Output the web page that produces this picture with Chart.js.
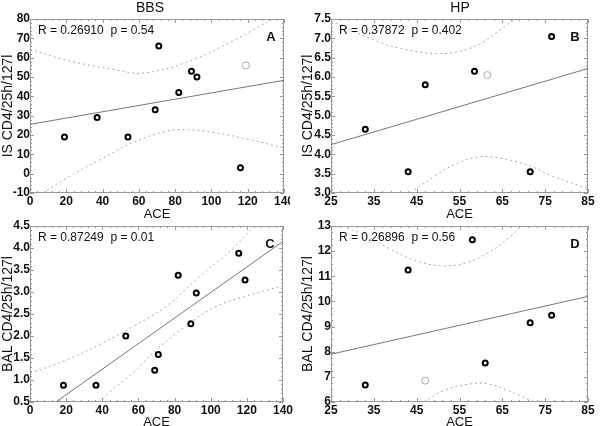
<!DOCTYPE html>
<html>
<head>
<meta charset="utf-8">
<script src="https://cdn.jsdelivr.net/npm/chart.js@4"></script>
<style>
  body { margin: 0; background: #fff; width: 600px; height: 426px; overflow: hidden; position: relative; }
  canvas, .clip { position: absolute; }
  .clip { overflow: hidden; }
</style>
</head>
<body>
<div class="clip" style="left:0;top:0;width:290px;height:222px">
  <canvas id="panelA" width="300" height="222" style="left:0;top:0"></canvas>
</div>
<canvas id="panelB" width="300" height="222" style="left:300px;top:0"></canvas>
<canvas id="panelC" width="300" height="216" style="left:0;top:214px"></canvas>
<canvas id="panelD" width="300" height="216" style="left:300px;top:214px"></canvas>
<script>
// ---- data ----
// BBS, IS (panel A)
const bbsIsAce = [19, 37, 54, 69, 71, 82, 89, 92, 116];
const bbsIsVal = [19, 29, 19, 33, 66, 42, 53, 50, 3];
const bbsIsOutAce = [119];
const bbsIsOutVal = [56];
const bbsIsFitAce = [0, 140];
const bbsIsFitVal = [25.5, 48.3];
const bbsIsUpAce = [0, 20, 48, 62, 86, 112, 127, 135];
const bbsIsUpVal = [64.4, 58.7, 53.6, 52, 57.5, 68.7, 76.5, 80.5];
const bbsIsLoAce = [0, 7, 20, 38.6, 57, 75, 86, 103, 121, 140];
const bbsIsLoVal = [-14, -10, -2.4, 7.2, 16.2, 21.9, 22.8, 21, 17.6, 13.3];

// HP, IS (panel B)
const hpIsAce = [33, 43, 47, 58.5, 71.5, 76.5];
const hpIsVal = [4.65, 3.55, 5.8, 6.15, 3.55, 7.05];
const hpIsOutAce = [61.5];
const hpIsOutVal = [6.05];
const hpIsFitAce = [25, 85];
const hpIsFitVal = [4.25, 6.22];
const hpIsUpAce = [25, 37, 43, 49, 54.5, 60, 64.5, 68];
const hpIsUpVal = [7.45, 6.87, 6.7, 6.61, 6.65, 6.87, 7.22, 7.5];
const hpIsLoAce = [43.5, 49, 54.5, 60, 64.5, 71, 77, 85];
const hpIsLoVal = [3.0, 3.42, 3.77, 3.94, 3.9, 3.72, 3.42, 3.12];

// BBS, BAL (panel C)
const bbsBalAce = [18.5, 36.5, 53, 69, 71, 82, 89, 92, 115.5, 119];
const bbsBalVal = [0.88, 0.88, 2.0, 1.22, 1.58, 3.38, 2.28, 2.98, 3.88, 3.27];
const bbsBalFitAce = [14.3, 140];
const bbsBalFitVal = [0.5, 4.15];
const bbsBalUpAce = [0, 19.8, 38.3, 56.8, 75.3, 93.8, 112.3, 124];
const bbsBalUpVal = [1.15, 1.45, 1.8, 2.21, 2.67, 3.35, 3.99, 4.5];
const bbsBalLoAce = [38.3, 47.6, 56.8, 69.8, 84.5, 103, 121.5, 140];
const bbsBalLoVal = [0.5, 0.85, 1.15, 1.68, 2.17, 2.67, 2.93, 3.14];

// HP, BAL (panel D)
const hpBalAce = [33, 43, 58, 61, 71.5, 76.5];
const hpBalVal = [6.68, 11.25, 12.45, 7.55, 9.15, 9.45];
const hpBalOutAce = [47];
const hpBalOutVal = [6.85];
const hpBalFitAce = [25, 85];
const hpBalFitVal = [7.9, 10.2];
const hpBalUpAce = [25, 27.9, 33.4, 38.8, 45.1, 51.4, 56.8, 62.3, 67, 69.4];
const hpBalUpVal = [13.4, 13, 12.6, 12.08, 11.61, 11.41, 11.55, 12.0, 12.6, 13];
const hpBalLoAce = [46.7, 51.4, 56.8, 61.5, 66.2, 72.5];
const hpBalLoVal = [6, 6.46, 6.7, 6.73, 6.46, 6.0];

const FONT = 'Arial, "Liberation Sans", sans-serif';
const INK = '#111';
const FRAME = '#999';

function pts(xs, ys) {
    return xs.map((x, i) => ({ x: x, y: ys[i] }));
}

// frame, inner tick marks and panel texts
const panelPlugin = {
    id: 'panel',
    beforeDatasetsDraw(chart, args, opts) {
        const { ctx, chartArea: a, scales } = chart;
        ctx.save();
        ctx.strokeStyle = FRAME;
        ctx.lineWidth = 1;
        ctx.strokeRect(a.left + 0.5, a.top + 0.5, a.right - a.left - 1, a.bottom - a.top - 1);
        const x = scales.x, y = scales.y;
        ctx.beginPath();
        for (let v = x.min; v <= x.max + 1e-9; v += opts.xMinor) {
            const p = Math.round(x.getPixelForValue(v)) + 0.5;
            const len = Math.abs(((v - x.min) / opts.xMajor) - Math.round((v - x.min) / opts.xMajor)) < 1e-6 ? 4 : 2;
            ctx.moveTo(p, a.bottom); ctx.lineTo(p, a.bottom - len);
            ctx.moveTo(p, a.top); ctx.lineTo(p, a.top + len);
        }
        for (let v = y.min; v <= y.max + 1e-9; v += opts.yMinor) {
            const p = Math.round(y.getPixelForValue(v)) + 0.5;
            const len = Math.abs(((v - y.min) / opts.yMajor) - Math.round((v - y.min) / opts.yMajor)) < 1e-6 ? 4 : 2;
            ctx.moveTo(a.left, p); ctx.lineTo(a.left + len, p);
            ctx.moveTo(a.right, p); ctx.lineTo(a.right - len, p);
        }
        ctx.stroke();
        ctx.restore();
    },
    afterDatasetsDraw(chart, args, opts) {
        const { ctx, chartArea: a } = chart;
        ctx.save();
        ctx.fillStyle = INK;
        if (opts.title) {
            ctx.font = '14px ' + FONT;
            ctx.textAlign = 'center';
            ctx.textBaseline = 'middle';
            ctx.fillText(opts.title, opts.titleX, 8);
        }
        ctx.font = '12px ' + FONT;
        ctx.textAlign = 'left';
        ctx.textBaseline = 'middle';
        ctx.fillText(opts.stat, a.left + 8, a.top + 12);
        ctx.font = 'bold 13px ' + FONT;
        ctx.textAlign = 'center';
        ctx.fillText(opts.letter, a.right - 13, a.top + 18);
        ctx.restore();
    }
};

function makePanel(id, p) {
    const datasets = [
        {
            data: pts(p.ace, p.val),
            pointRadius: 2.5, pointBorderWidth: 2,
            pointBorderColor: '#000', pointBackgroundColor: '#fff',
            order: 0
        },
        {
            data: pts(p.fitAce, p.fitVal), showLine: true, pointRadius: 0,
            borderColor: '#777', borderWidth: 1, order: 2
        },
        {
            data: pts(p.upAce, p.upVal), showLine: true, pointRadius: 0, tension: 0.4,
            borderColor: '#aaa', borderWidth: 1, borderDash: [2, 3], order: 2
        },
        {
            data: pts(p.loAce, p.loVal), showLine: true, pointRadius: 0, tension: 0.4,
            borderColor: '#aaa', borderWidth: 1, borderDash: [2, 3], order: 2
        }
    ];
    if (p.outAce) {
        datasets.push({
            data: pts(p.outAce, p.outVal),
            pointRadius: 3.5, pointBorderWidth: 1,
            pointBorderColor: '#aaa', pointBackgroundColor: '#fff',
            order: 1
        });
    }
    return new Chart(document.getElementById(id), {
        type: 'scatter',
        data: { datasets: datasets },
        plugins: [panelPlugin],
        options: {
            responsive: false,
            animation: false,
            devicePixelRatio: 1,
            layout: { autoPadding: false, padding: p.padding },
            plugins: {
                legend: { display: false },
                tooltip: { enabled: false },
                panel: p.text
            },
            scales: {
                x: {
                    type: 'linear', min: p.xMin, max: p.xMax,
                    grid: { display: false, drawTicks: false },
                    border: { display: false },
                    ticks: {
                        stepSize: p.xStep, padding: 1, maxRotation: 0, autoSkip: false,
                        color: INK, font: { family: FONT, size: 12, weight: 'bold' }
                    },
                    title: {
                        display: true, text: 'ACE', color: INK, padding: 0,
                        font: { family: FONT, size: 13 }
                    },
                    afterFit(s) { s.height = p.xHeight; }
                },
                y: {
                    type: 'linear', min: p.yMin, max: p.yMax,
                    grid: { display: false, drawTicks: false },
                    border: { display: false },
                    ticks: {
                        stepSize: p.yStep, padding: 0, autoSkip: false,
                        color: INK, font: { family: FONT, size: 12, weight: 'bold' },
                        callback: v => v.toFixed(p.yDigits)
                    },
                    title: {
                        display: true, text: p.yTitle, color: INK, padding: 0,
                        font: { family: FONT, size: 14 }
                    },
                    afterFit(s) { s.width = p.yWidth; }
                }
            }
        }
    });
}

makePanel('panelA', {
    ace: bbsIsAce, val: bbsIsVal, outAce: bbsIsOutAce, outVal: bbsIsOutVal,
    fitAce: bbsIsFitAce, fitVal: bbsIsFitVal,
    upAce: bbsIsUpAce, upVal: bbsIsUpVal, loAce: bbsIsLoAce, loVal: bbsIsLoVal,
    xMin: 0, xMax: 140, xStep: 20, yMin: -10, yMax: 80, yStep: 10, yDigits: 0,
    yTitle: 'IS CD4/25h/127l',
    padding: { top: 19, right: 16, left: 0, bottom: 0 }, xHeight: 29, yWidth: 30,
    text: { title: 'BBS', titleX: 150, stat: 'R = 0.26910  p = 0.54', letter: 'A',
            xMajor: 20, xMinor: 4, yMajor: 10, yMinor: 2 }
});

makePanel('panelB', {
    ace: hpIsAce, val: hpIsVal, outAce: hpIsOutAce, outVal: hpIsOutVal,
    fitAce: hpIsFitAce, fitVal: hpIsFitVal,
    upAce: hpIsUpAce, upVal: hpIsUpVal, loAce: hpIsLoAce, loVal: hpIsLoVal,
    xMin: 25, xMax: 85, xStep: 10, yMin: 3, yMax: 7.5, yStep: 0.5, yDigits: 1,
    yTitle: 'IS CD4/25h/127l',
    padding: { top: 19, right: 12, left: 0, bottom: 0 }, xHeight: 29, yWidth: 31,
    text: { title: 'HP', titleX: 160, stat: 'R = 0.37872  p = 0.402', letter: 'B',
            xMajor: 10, xMinor: 2, yMajor: 0.5, yMinor: 0.1 }
});

makePanel('panelC', {
    ace: bbsBalAce, val: bbsBalVal,
    fitAce: bbsBalFitAce, fitVal: bbsBalFitVal,
    upAce: bbsBalUpAce, upVal: bbsBalUpVal, loAce: bbsBalLoAce, loVal: bbsBalLoVal,
    xMin: 0, xMax: 140, xStep: 20, yMin: 0.5, yMax: 4.5, yStep: 0.5, yDigits: 1,
    yTitle: 'BAL CD4/25h/127l',
    padding: { top: 12, right: 17, left: 0, bottom: 0 }, xHeight: 28, yWidth: 30,
    text: { stat: 'R = 0.87249  p = 0.01', letter: 'C',
            xMajor: 20, xMinor: 4, yMajor: 0.5, yMinor: 0.1 }
});

makePanel('panelD', {
    ace: hpBalAce, val: hpBalVal, outAce: hpBalOutAce, outVal: hpBalOutVal,
    fitAce: hpBalFitAce, fitVal: hpBalFitVal,
    upAce: hpBalUpAce, upVal: hpBalUpVal, loAce: hpBalLoAce, loVal: hpBalLoVal,
    xMin: 25, xMax: 85, xStep: 10, yMin: 6, yMax: 13, yStep: 1, yDigits: 0,
    yTitle: 'BAL CD4/25h/127l',
    padding: { top: 12, right: 12, left: 0, bottom: 0 }, xHeight: 28, yWidth: 31,
    text: { stat: 'R = 0.26896  p = 0.56', letter: 'D',
            xMajor: 10, xMinor: 2, yMajor: 1, yMinor: 0.25 }
});
</script>
</body>
</html>
